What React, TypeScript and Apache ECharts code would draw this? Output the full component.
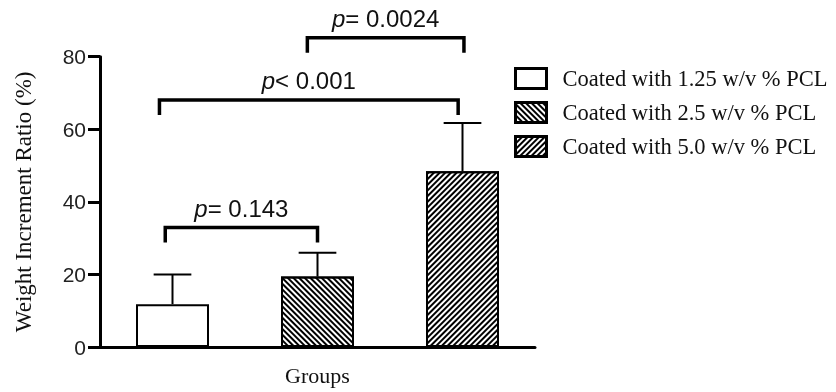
import React, { useEffect, useRef } from "react";
import * as echarts from "echarts";

const categories = ["1.25", "2.5", "5.0"];
const seriesNames = [
  "Coated with 1.25 w/v % PCL",
  "Coated with 2.5 w/v % PCL",
  "Coated with 5.0 w/v % PCL",
];
const means = [11.8, 19.4, 48.4];
const upperErrors = [20.0, 26.0, 61.7];
const yTicks = [0, 20, 40, 60, 80];

const bracketFrom = [-0.05, -0.09, 0.93];
const bracketTo = [1.0, 1.97, 2.01];
const bracketY = [32.9, 68.1, 85.2];
const bracketOp = ["=", "<", "="];
const bracketP = ["0.143", "0.001", "0.0024"];

const serifFont = "'Liberation Serif', 'Times New Roman', serif";
const sansFont = "'Liberation Sans', Arial, sans-serif";

const decals = [
  null,
  {
    symbol: "rect",
    symbolSize: 1,
    color: "#000",
    dashArrayX: [1, 0],
    dashArrayY: [1.3, 1.6],
    rotation: Math.PI / 4,
  },
  {
    symbol: "rect",
    symbolSize: 1,
    color: "#000",
    dashArrayX: [1, 0],
    dashArrayY: [1.3, 1.6],
    rotation: -Math.PI / 4,
  },
];

export default function App() {
  const ref = useRef<HTMLDivElement>(null);
  useEffect(() => {
    if (!ref.current) return;
    const chart = echarts.init(ref.current, null, { renderer: "svg" });

    const barSeries = seriesNames.map((name, i) => ({
      name,
      type: "bar",
      barWidth: 73,
      barGap: "-100%",
      data: categories.map((_, j) => (j === i ? means[j] : "-")),
      itemStyle: {
        color: "#fff",
        borderColor: "#000",
        borderWidth: 2,
        decal: decals[i] || undefined,
      },
      z: 2,
    }));

    const errorData = categories.map((_, i) => [i, means[i], upperErrors[i]]);
    const bracketData = bracketY.map((y, i) => [
      bracketFrom[i],
      bracketTo[i],
      y,
      i,
    ]);

    chart.setOption({
      animation: false,
      grid: { left: 100, right: 301, top: 56.7, bottom: 45, containLabel: false },
      legend: {
        data: seriesNames,
        orient: "vertical",
        left: 509,
        top: 62,
        itemWidth: 31,
        itemHeight: 20,
        itemGap: 11,
        icon: "rect",
        selectedMode: false,
        itemStyle: { borderColor: "#000", borderWidth: 3 },
        textStyle: {
          fontFamily: serifFont,
          fontSize: 22.5,
          color: "#111",
          padding: [0, 0, 0, 11],
        },
      },
      xAxis: {
        type: "category",
        data: categories,
        name: "Groups",
        nameLocation: "middle",
        nameGap: 17,
        nameTextStyle: {
          fontFamily: serifFont,
          fontSize: 22,
          color: "#111",
          verticalAlign: "top",
        },
        axisLine: { lineStyle: { color: "#000", width: 3 } },
        axisTick: { alignWithLabel: true, length: 11, lineStyle: { width: 3, color: "#000" } },
        axisLabel: { show: false },
      },
      yAxis: {
        type: "value",
        min: 0,
        max: 80,
        interval: 20,
        name: "Weight Increment Ratio (%)",
        nameLocation: "middle",
        nameGap: 65,
        nameTextStyle: { fontFamily: serifFont, fontSize: 23, color: "#111" },
        axisLine: { show: true, lineStyle: { color: "#000", width: 3 } },
        axisTick: { show: true, length: 12, lineStyle: { width: 3, color: "#000" } },
        axisLabel: {
          margin: 14,
          fontFamily: sansFont,
          fontSize: 21,
          color: "#222",
          formatter: (v: number) => (yTicks.includes(v) ? String(v) : ""),
        },
        splitLine: { show: false },
      },
      series: [
        ...barSeries,
        {
          type: "custom",
          name: "err",
          data: errorData,
          z: 3,
          renderItem: (params: any, api: any) => {
            const idx = api.value(0);
            const top = api.coord([idx, api.value(1)]);
            const hi = api.coord([idx, api.value(2)]);
            const band = api.size([1, 0])[0];
            const capHalf = band * 0.13;
            return {
              type: "group",
              children: [
                {
                  type: "line",
                  shape: { x1: top[0], y1: top[1], x2: hi[0], y2: hi[1] },
                  style: { stroke: "#000", lineWidth: 2 },
                },
                {
                  type: "line",
                  shape: { x1: hi[0] - capHalf, y1: hi[1], x2: hi[0] + capHalf, y2: hi[1] },
                  style: { stroke: "#000", lineWidth: 2 },
                },
              ],
            };
          },
        },
        {
          type: "custom",
          name: "brackets",
          data: bracketData,
          z: 4,
          clip: false,
          renderItem: (params: any, api: any) => {
            const band = api.size([1, 0])[0];
            const base = api.coord([0, api.value(2)]);
            const x1 = base[0] + api.value(0) * band;
            const x2 = base[0] + api.value(1) * band;
            const y = base[1];
            const k = api.value(3);
            const leg = 15;
            return {
              type: "group",
              children: [
                {
                  type: "polyline",
                  shape: {
                    points: [
                      [x1, y + leg],
                      [x1, y],
                      [x2, y],
                      [x2, y + leg],
                    ],
                  },
                  style: { stroke: "#000", lineWidth: 3.5, fill: "none" },
                },
                {
                  type: "text",
                  x: (x1 + x2) / 2,
                  y: y - 19.5,
                  style: {
                    text: "{i|p}" + bracketOp[k] + " " + bracketP[k],
                    align: "center",
                    verticalAlign: "middle",
                    fontFamily: sansFont,
                    fontSize: 24,
                    fill: "#111",
                    rich: {
                      i: { fontStyle: "italic", fontFamily: sansFont, fontSize: 24, fill: "#111" },
                    },
                  },
                },
              ],
            };
          },
        },
      ],
    });
    return () => chart.dispose();
  }, []);
  return (
    <div
      ref={ref}
      style={{ position: "fixed", left: 0, top: 0, width: 836, height: 392 }}
    />
  );
}
